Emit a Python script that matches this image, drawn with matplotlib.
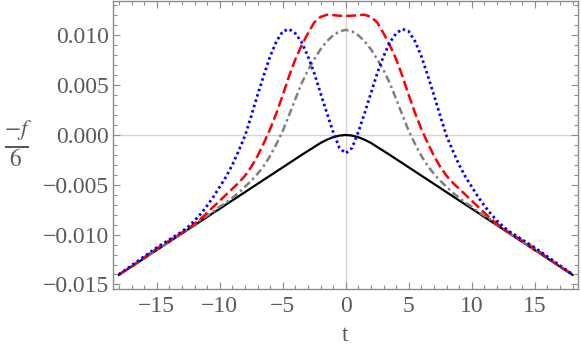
"""
plot.py - four -f/6 curves against t, drawn in the Mathematica framed style.

Writes: out.png
"""
import matplotlib
matplotlib.use("Agg")
import matplotlib.pyplot as plt
from matplotlib.ticker import MultipleLocator

# sample points in t (half steps where the curves bend)
t = [-18, -17, -16, -15, -14,
     -13, -12.5, -12, -11.5, -11, -10.5, -10, -9.5, -9, -8.5, -8, -7.5, -7, -6.5,
     -6, -5.5, -5, -4.5, -4, -3.5, -3, -2.5, -2, -1.5, -1, -0.5,
     0,
     0.5, 1, 1.5, 2, 2.5, 3, 3.5, 4, 4.5, 5, 5.5, 6,
     6.5, 7, 7.5, 8, 8.5, 9, 9.5, 10, 10.5, 11, 11.5, 12, 12.5, 13,
     14, 15, 16, 17, 18]

# black, solid
black = [-0.01404, -0.01321, -0.01238, -0.01155, -0.01072,
         -0.00989, -0.00947, -0.00906, -0.00864, -0.00823, -0.00781, -0.00740, -0.00698,
         -0.00657, -0.00615, -0.00574, -0.00532, -0.00491, -0.00449,
         -0.00408, -0.00366, -0.00325, -0.00283, -0.00242, -0.00200, -0.00160, -0.00120,
         -0.00080, -0.00048, -0.00022, -0.00006,
         0.0,
         -0.00006, -0.00022, -0.00048, -0.00080, -0.00120, -0.00160, -0.00200, -0.00242,
         -0.00283, -0.00325, -0.00366, -0.00408,
         -0.00449, -0.00491, -0.00532, -0.00574, -0.00615, -0.00657, -0.00698, -0.00740,
         -0.00781, -0.00823, -0.00864, -0.00906, -0.00947, -0.00989,
         -0.01072, -0.01155, -0.01238, -0.01321, -0.01404]

# blue, dotted
blue = [-0.0140, -0.0131, -0.0122, -0.0113, -0.0105,
        -0.0097, -0.0092, -0.0086, -0.0079, -0.0071, -0.0062, -0.0052, -0.0042,
        -0.0030, -0.0016, -0.0001, 0.0019, 0.0040, 0.0060,
        0.0079, 0.0094, 0.0104, 0.01063, 0.0102, 0.0093, 0.0079, 0.0062,
        0.0042, 0.0022, 0.0003, -0.0013,
        -0.00184,
        -0.0013, 0.0003, 0.0022, 0.0042, 0.0062, 0.0079, 0.0093, 0.0102,
        0.01063, 0.0104, 0.0094, 0.0079,
        0.0060, 0.0040, 0.0019, -0.0001, -0.0016, -0.0030, -0.0042, -0.0052,
        -0.0062, -0.0071, -0.0079, -0.0086, -0.0092, -0.0097,
        -0.0105, -0.0113, -0.0122, -0.0131, -0.0140]

# red, dashed
red = [-0.0140, -0.0132, -0.0123, -0.0114, -0.0106,
       -0.0098, -0.0094, -0.0089, -0.0084, -0.0078, -0.0072, -0.0066, -0.0060,
       -0.0054, -0.0048, -0.0041, -0.0032, -0.0021, -0.0008,
       0.0006, 0.0022, 0.0040, 0.0059, 0.0076, 0.0090, 0.0102, 0.0113,
       0.01185, 0.01207, 0.01203, 0.01197,
       0.01195,
       0.01197, 0.01203, 0.01207, 0.01185, 0.0113, 0.0102, 0.0090, 0.0076,
       0.0059, 0.0040, 0.0022, 0.0006,
       -0.0008, -0.0021, -0.0032, -0.0041, -0.0048, -0.0054, -0.0060, -0.0066,
       -0.0072, -0.0078, -0.0084, -0.0089, -0.0094, -0.0098,
       -0.0106, -0.0114, -0.0123, -0.0132, -0.0140]

# gray, dot-dashed
gray = [-0.0140, -0.0132, -0.0124, -0.0115, -0.0107,
        -0.0099, -0.0094, -0.0090, -0.0085, -0.0081, -0.0077, -0.0072, -0.0068,
        -0.0063, -0.0058, -0.0052, -0.0046, -0.0039, -0.0031,
        -0.0021, -0.0009, 0.0004, 0.0020, 0.0036, 0.0052, 0.0065, 0.0076,
        0.0086, 0.0094, 0.0100, 0.0104,
        0.01055,
        0.0104, 0.0100, 0.0094, 0.0086, 0.0076, 0.0065, 0.0052, 0.0036,
        0.0020, 0.0004, -0.0009, -0.0021,
        -0.0031, -0.0039, -0.0046, -0.0052, -0.0058, -0.0063, -0.0068, -0.0072,
        -0.0077, -0.0081, -0.0085, -0.0090, -0.0094, -0.0099,
        -0.0107, -0.0115, -0.0124, -0.0132, -0.0140]

x_ticks = [-15, -10, -5, 0, 5, 10, 15]
y_ticks = [-0.015, -0.010, -0.005, 0.000, 0.005, 0.010]

FRAME = "#8c8c8c"
TEXT = "#5a5a5a"

plt.rcParams["font.family"] = ["Liberation Serif", "DejaVu Serif"]
plt.rcParams["mathtext.fontset"] = "stix"

fig = plt.figure(figsize=(5.81, 3.46), dpi=100)
ax = fig.add_axes([0.1945, 0.1647, 0.8003, 0.8333])

# Mathematica draws light axes through the origin
ax.axhline(0, color="#d4d4d4", lw=1.0, zorder=1)
ax.axvline(0, color="#d4d4d4", lw=1.0, zorder=1)

ax.plot(t, black, color="black", lw=1.6, zorder=3)
ax.plot(t, gray, color="#7f7f7f", lw=1.8, dashes=(3.0, 1.4, 1.0, 1.4), zorder=3)
ax.plot(t, red, color="#ff0000", lw=1.8, dashes=(4.0, 1.6), zorder=4)
ax.plot(t, blue, color="#0000ff", lw=2.0, dashes=(0.9, 1.1), zorder=5)

ax.set_xlim(-18.47, 18.43)
ax.set_ylim(-0.01546, 0.01348)

ax.set_xticks(x_ticks)
ax.set_xticklabels([f"{v}".replace("-", "\u2212") for v in x_ticks])
ax.set_yticks(y_ticks)
ax.set_yticklabels([f"{v:.3f}".replace("-", "\u2212") for v in y_ticks])
ax.xaxis.set_minor_locator(MultipleLocator(1))
ax.yaxis.set_minor_locator(MultipleLocator(0.001))

for s in ax.spines.values():
    s.set_color(FRAME)
    s.set_linewidth(1.0)

ax.tick_params(which="both", direction="in", top=True, right=True,
               color=FRAME, labelcolor=TEXT, labelsize=17, width=0.8)
ax.tick_params(which="major", length=5, pad=3)
ax.tick_params(axis="x", which="major", pad=5)
ax.tick_params(which="minor", length=2.8)

ax.set_xlabel("t", color=TEXT, fontsize=17, labelpad=6)
fig.text(18 / 581, 1 - 143 / 346, r"$\frac{-f}{6}$", color=TEXT, fontsize=24,
         ha="center", va="center")

fig.savefig("out.png", dpi=100)
plt.close(fig)
print("Figure: out.png")
